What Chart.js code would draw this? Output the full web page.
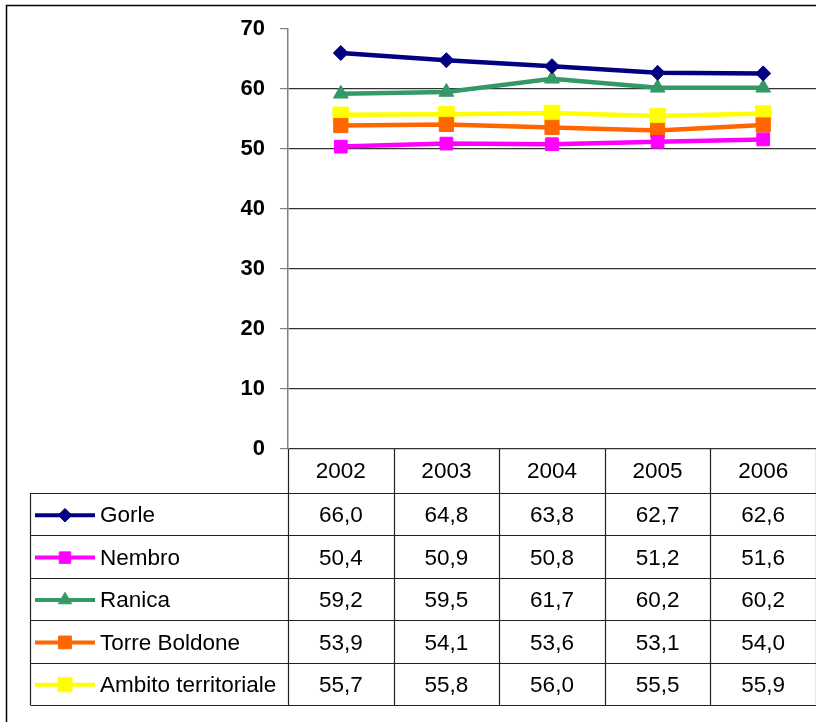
<!DOCTYPE html>
<html>
<head>
<meta charset="utf-8">
<script src="https://cdn.jsdelivr.net/npm/chart.js@4/dist/chart.umd.min.js"></script>
<style>
  html, body { margin: 0; padding: 0; background: #fff; }
  #wrap { width: 816px; height: 722px; position: relative; }
</style>
</head>
<body>
<div id="wrap"><canvas id="canvas" width="816" height="722"></canvas></div>
<script>
// anni (categorie)
var years = ['2002', '2003', '2004', '2005', '2006'];

// serie
var gorle        = [66.0, 64.8, 63.8, 62.7, 62.6];
var nembro       = [50.4, 50.9, 50.8, 51.2, 51.6];
var ranica       = [59.2, 59.5, 61.7, 60.2, 60.2];
var torreBoldone = [53.9, 54.1, 53.6, 53.1, 54.0];
var ambito       = [55.7, 55.8, 56.0, 55.5, 55.9];

var seriesNames = ['Gorle', 'Nembro', 'Ranica', 'Torre Boldone', 'Ambito territoriale'];

// asse y
var yMin = 0;
var yMax = 70;
var yStep = 10;

var FONT = "'Liberation Sans', Arial, sans-serif";

function fmt(v) {
    return v.toFixed(1).replace('.', ',');
}

function makeSet(label, data, color, style, radius) {
    return {
        label: label,
        data: data,
        borderColor: color,
        backgroundColor: color,
        borderWidth: 4.5,
        pointStyle: style,
        pointRadius: radius,
        pointHoverRadius: radius,
        pointBorderWidth: 1,
        pointBorderColor: color,
        pointBackgroundColor: color,
        tension: 0,
        fill: false,
        clip: false
    };
}

// bordo esterno del grafico
var frame = {
    id: 'frame',
    beforeDraw: function (chart) {
        var ctx = chart.ctx;
        ctx.save();
        ctx.fillStyle = '#fff';
        ctx.fillRect(0, 0, chart.width, chart.height);
        ctx.strokeStyle = '#000';
        ctx.lineWidth = 1.5;
        ctx.beginPath();
        ctx.moveTo(6.5, chart.height);
        ctx.lineTo(6.5, 5.5);
        ctx.lineTo(chart.width, 5.5);
        ctx.stroke();
        ctx.restore();
    }
};

// tabella dati sotto il grafico
var dataTable = {
    id: 'dataTable',
    afterDraw: function (chart) {
        var ctx = chart.ctx;
        var x = chart.scales.x;
        var y = chart.scales.y;
        var step = x.getPixelForValue(1) - x.getPixelForValue(0);
        var top = y.bottom;
        var headH = 44;
        var rowH = 42.4;
        var legLeft = 30.5;
        var colLeft = x.getPixelForValue(0) - step / 2;
        var nRows = chart.data.datasets.length;
        var bottom = top + headH + rowH * nRows;

        ctx.save();
        ctx.strokeStyle = '#222';
        ctx.lineWidth = 1.2;
        ctx.beginPath();
        // righe orizzontali
        for (var r = 0; r <= nRows; r++) {
            var ry = Math.round(top + headH + rowH * r) + 0.5;
            ctx.moveTo(legLeft, ry);
            ctx.lineTo(chart.width, ry);
        }
        // colonne
        for (var c = 0; c <= years.length; c++) {
            var cx = Math.round(colLeft + step * c) + 0.5;
            ctx.moveTo(cx, top);
            ctx.lineTo(cx, bottom);
        }
        ctx.moveTo(legLeft, top + headH);
        ctx.lineTo(legLeft, bottom);
        ctx.stroke();

        ctx.fillStyle = '#000';
        ctx.font = '22.5px ' + FONT;
        ctx.textAlign = 'center';
        ctx.textBaseline = 'middle';
        years.forEach(function (yr, i) {
            ctx.fillText(yr, x.getPixelForValue(i), top + headH / 2 + 1);
        });

        chart.data.datasets.forEach(function (ds, r) {
            var cy = top + headH + rowH * r + rowH / 2 + 2;
            ctx.textAlign = 'center';
            ds.data.forEach(function (v, i) {
                ctx.fillText(fmt(v), x.getPixelForValue(i), cy);
            });
            // chiave legenda
            ctx.strokeStyle = ds.borderColor;
            ctx.lineWidth = 4;
            ctx.beginPath();
            ctx.moveTo(35, cy - 1);
            ctx.lineTo(95, cy - 1);
            ctx.stroke();
            ctx.fillStyle = ds.pointBackgroundColor;
            ctx.strokeStyle = ds.pointBorderColor;
            ctx.lineWidth = 1;
            Chart.helpers.drawPoint(ctx, {
                pointStyle: ds.pointStyle,
                radius: ds.pointRadius * 0.9,
                rotation: 0,
                borderWidth: 1
            }, 65, cy - 1);
            ctx.fillStyle = '#000';
            ctx.textAlign = 'left';
            ctx.fillText(ds.label, 100, cy);
        });
        ctx.restore();
    }
};

var config = {
    type: 'line',
    data: {
        labels: years,
        datasets: [
            makeSet(seriesNames[0], gorle, '#000080', 'rectRot', 7.5),
            makeSet(seriesNames[1], nembro, '#FF00FF', 'rect', 9),
            makeSet(seriesNames[2], ranica, '#339966', 'triangle', 8.5),
            makeSet(seriesNames[3], torreBoldone, '#FF6600', 'rect', 10),
            makeSet(seriesNames[4], ambito, '#FFFF00', 'rect', 11)
        ]
    },
    options: {
        responsive: false,
        animation: false,
        events: [],
        layout: { autoPadding: false, padding: { top: 29, right: 0, bottom: 273, left: 0 } },
        plugins: {
            legend: { display: false },
            tooltip: { enabled: false },
            title: { display: false }
        },
        scales: {
            x: {
                type: 'category',
                offset: true,
                display: false
            },
            y: {
                min: yMin,
                max: yMax,
                ticks: {
                    stepSize: yStep,
                    color: '#000',
                    padding: 15,
                    font: { family: FONT, size: 22, weight: 'bold' }
                },
                grid: {
                    color: function (c) {
                        return c.tick && c.tick.value === yMax ? 'rgba(0,0,0,0)' : '#333';
                    },
                    lineWidth: 1.2,
                    tickLength: 8,
                    tickColor: '#808080'
                },
                border: { color: '#808080', width: 1.5 },
                afterFit: function (scale) { scale.width = 288; }
            }
        }
    },
    plugins: [frame, dataTable]
};

var chart = new Chart(document.getElementById('canvas').getContext('2d'), config);
</script>
</body>
</html>
